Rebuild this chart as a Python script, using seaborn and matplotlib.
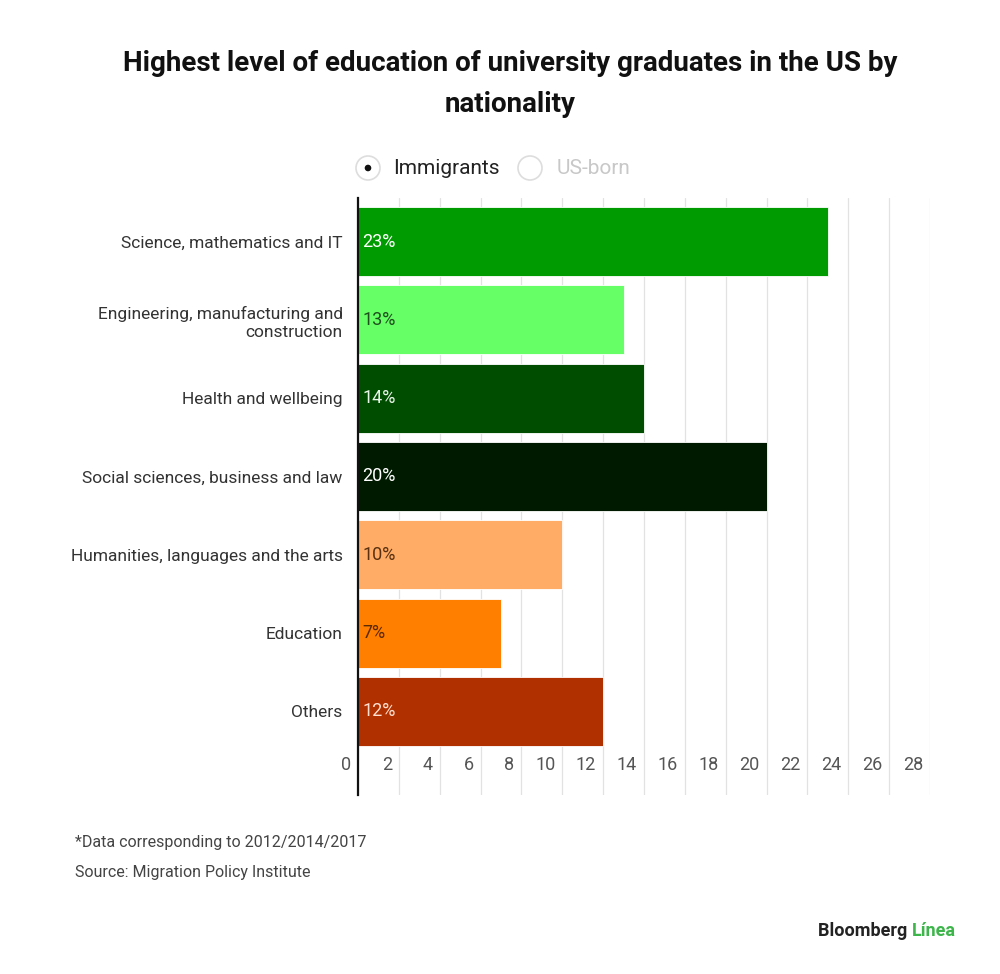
import matplotlib
matplotlib.use("Agg")
import matplotlib.pyplot as plt
import matplotlib.transforms as mtransforms
from matplotlib.patches import Circle
import seaborn as sns
import pandas as pd

categories = [
    "Science, mathematics and IT",
    "Engineering, manufacturing and\nconstruction",
    "Health and wellbeing",
    "Social sciences, business and law",
    "Humanities, languages and the arts",
    "Education",
    "Others",
]
values = [23, 13, 14, 20, 10, 7, 12]
bar_colors = ["#009b00", "#66ff66", "#004d00", "#001a00", "#ffad66", "#ff7f00", "#b03000"]
label_colors = ["#ffffff", "#1f4d1f", "#e8f5e8", "#ffffff", "#5a3010", "#5a2a05", "#ffe0d0"]
xticks = list(range(0, 29, 2))
title = "Highest level of education of university graduates in the US by\nnationality"
legend_items = ["Immigrants", "US-born"]
note = "*Data corresponding to 2012/2014/2017"
source = "Source: Migration Policy Institute"

sns.set_theme(style="white")
plt.rcParams["font.family"] = ["Roboto", "DejaVu Sans"]

df = pd.DataFrame({"category": categories, "value": values})

W, H = 1000, 974
fig = plt.figure(figsize=(W / 100, H / 100), dpi=100)
fig.patch.set_facecolor("white")

# axes: x 358..930 (0..28), y 198..795
ax = fig.add_axes([358 / W, 1 - 795 / H, 572 / W, (795 - 198) / H])
sns.barplot(data=df, x="value", y="category", hue="category", palette=bar_colors,
            legend=False, width=0.88, orient="h", ax=ax, saturation=1,
            edgecolor="white", linewidth=0.6)

ax.set_xlim(0, 28)
sp = 78.3
ax.set_ylim(6 + (795 - 711.5) / sp, -(241.5 - 198) / sp)

ax.set_xticks(xticks)
ax.set_xticklabels([str(t) for t in xticks], fontsize=13, color="#555555", ha="right")
ax.tick_params(axis="x", length=0, pad=-28)
off = mtransforms.ScaledTranslation(-7 / 100, 0, fig.dpi_scale_trans)
for lab in ax.get_xticklabels():
    lab.set_transform(lab.get_transform() + off)

ax.tick_params(axis="y", length=0, pad=11)
for lab in ax.get_yticklabels():
    lab.set_fontsize(12.5)
    lab.set_color("#333333")
    lab.set_horizontalalignment("right")
    lab.set_multialignment("right")
    lab.set_linespacing(1.25)

ax.set_xlabel("")
ax.set_ylabel("")
ax.grid(axis="x", color="#e2e2e2", linewidth=0.9)
ax.grid(axis="y", visible=False)
ax.set_axisbelow(True)
for s in ["top", "right", "bottom"]:
    ax.spines[s].set_visible(False)
ax.spines["left"].set_color("#111111")
ax.spines["left"].set_linewidth(1.6)

# bar value labels
for i, (v, c) in enumerate(zip(values, label_colors)):
    ax.text(0.2, i, f"{v}%", ha="left", va="center", fontsize=13, color=c)

# title
fig.text(510 / W, 1 - 84 / H, title, ha="center", va="center", fontsize=20,
         fontweight="bold", color="#111111", linespacing=1.7)

# legend (radio buttons)
def radio(xc, yc, selected):
    circ = Circle((xc, H - yc), 12, transform=None, facecolor="white",
                  edgecolor="#dddddd", linewidth=1.2)
    fig.patches.append(circ)
    if selected:
        dot = Circle((xc, H - yc), 3.3, transform=None, facecolor="#111111", edgecolor="none")
        fig.patches.append(dot)

radio(368, 168, True)
fig.text(393 / W, 1 - 168 / H, legend_items[0], ha="left", va="center", fontsize=15, color="#222222")
radio(530, 168, False)
fig.text(557 / W, 1 - 168 / H, legend_items[1], ha="left", va="center", fontsize=15, color="#c8c8c8")

# footnotes
fig.text(75 / W, 1 - 843 / H, note, ha="left", va="center", fontsize=11.5, color="#444444")
fig.text(75 / W, 1 - 873 / H, source, ha="left", va="center", fontsize=11.5, color="#444444")

# brand
t1 = fig.text(818 / W, 1 - 931 / H, "Bloomberg ", ha="left", va="center", fontsize=13,
              fontweight="bold", color="#222222")
fig.canvas.draw()
bb = t1.get_window_extent()
fig.text(bb.x1 / W, 1 - 931 / H, "Línea", ha="left", va="center", fontsize=13,
         fontweight="bold", color="#3db54a")

fig.savefig("out.png", dpi=100, facecolor="white")
